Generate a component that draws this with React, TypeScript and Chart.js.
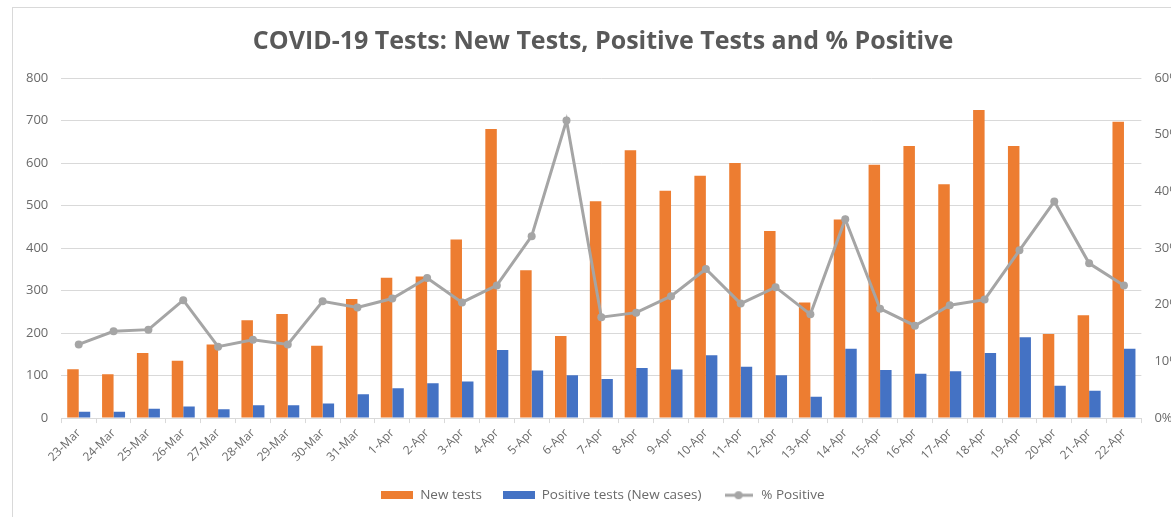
import React, { useEffect, useRef } from "react";
import { Chart, registerables } from "chart.js";

Chart.register(...registerables);

const categories = [
  "23-Mar", "24-Mar", "25-Mar", "26-Mar", "27-Mar", "28-Mar", "29-Mar", "30-Mar", "31-Mar",
  "1-Apr", "2-Apr", "3-Apr", "4-Apr", "5-Apr", "6-Apr", "7-Apr", "8-Apr", "9-Apr", "10-Apr",
  "11-Apr", "12-Apr", "13-Apr", "14-Apr", "15-Apr", "16-Apr", "17-Apr", "18-Apr", "19-Apr",
  "20-Apr", "21-Apr", "22-Apr",
];

const newTests = [
  115, 103, 153, 135, 173, 230, 245, 170, 280, 330, 333, 420, 680, 348, 193, 510, 630, 535, 570,
  600, 440, 272, 467, 596, 640, 550, 725, 640, 198, 242, 697,
];

const positiveTests = [
  15, 15, 22, 27, 21, 30, 30, 34, 56, 70, 82, 86, 160, 112, 101, 92, 118, 114, 148, 121, 101, 50,
  163, 113, 104, 110, 153, 190, 76, 64, 163,
];

const pctPositive = [
  13.0, 15.3, 15.6, 20.8, 12.6, 13.8, 13.0, 20.6, 19.5, 21.1, 24.7, 20.4, 23.4, 32.1, 52.5, 17.8,
  18.6, 21.5, 26.3, 20.2, 23.1, 18.3, 35.1, 19.3, 16.3, 19.9, 20.9, 29.6, 38.2, 27.3, 23.4,
];

const leftTickMax = 800;
const leftTickStep = 100;
const rightTickMax = 60;
const rightTickStep = 10;

const titleText = "COVID-19 Tests: New Tests, Positive Tests and % Positive";
const seriesLabels = ["New tests", "Positive tests (New cases)", "% Positive"];

const ORANGE = "#ED7D31";
const BLUE = "#4472C4";
const GRAY = "#A5A5A5";
const TEXT = "#6a6a6a";
const GRID = "#d9d9d9";
const FONT = "'Open Sans', sans-serif";

function makeIcon(kind: string, color: string): HTMLCanvasElement {
  const c = document.createElement("canvas");
  if (kind === "bar") {
    c.width = 32;
    c.height = 8;
    const ctx = c.getContext("2d")!;
    ctx.fillStyle = color;
    ctx.fillRect(0, 0, 32, 8);
  } else {
    c.width = 28;
    c.height = 10;
    const ctx = c.getContext("2d")!;
    ctx.strokeStyle = color;
    ctx.lineWidth = 3;
    ctx.beginPath();
    ctx.moveTo(0, 5);
    ctx.lineTo(28, 5);
    ctx.stroke();
    ctx.fillStyle = color;
    ctx.beginPath();
    ctx.arc(14, 5, 4, 0, Math.PI * 2);
    ctx.fill();
  }
  return c;
}

export default function App() {
  const ref = useRef<HTMLCanvasElement>(null);

  useEffect(() => {
    if (!ref.current) return;
    const icons = [makeIcon("bar", ORANGE), makeIcon("bar", BLUE), makeIcon("line", GRAY)];
    const chart = new Chart(ref.current, {
      type: "bar",
      data: {
        labels: categories,
        datasets: [
          {
            type: "bar",
            label: seriesLabels[0],
            data: newTests,
            backgroundColor: ORANGE,
            yAxisID: "y",
            order: 2,
            categoryPercentage: 0.66,
            barPercentage: 1,
          },
          {
            type: "bar",
            label: seriesLabels[1],
            data: positiveTests,
            backgroundColor: BLUE,
            yAxisID: "y",
            order: 2,
            categoryPercentage: 0.66,
            barPercentage: 1,
          },
          {
            type: "line",
            label: seriesLabels[2],
            data: pctPositive,
            borderColor: GRAY,
            backgroundColor: GRAY,
            borderWidth: 3,
            pointRadius: 4,
            pointHoverRadius: 4,
            pointBorderWidth: 0,
            pointBackgroundColor: GRAY,
            tension: 0,
            yAxisID: "y1",
            order: 1,
          },
        ] as any,
      },
      options: {
        responsive: false,
        animation: false,
        layout: { padding: { left: 0, right: 0, top: 0, bottom: 6 } },
        plugins: {
          title: {
            display: true,
            text: titleText,
            color: "#595959",
            font: { family: FONT, size: 25, weight: "bold" },
            padding: { top: 19, bottom: 21 },
          },
          legend: {
            position: "bottom",
            labels: {
              usePointStyle: true,
              pointStyleWidth: 32,
              boxHeight: 10,
              padding: 21,
              color: TEXT,
              font: { family: FONT, size: 13.5 },
              generateLabels: (ch: any) =>
                ch.data.datasets.map((ds: any, i: number) => ({
                  text: ds.label,
                  pointStyle: icons[i],
                  fillStyle: ds.backgroundColor,
                  strokeStyle: ds.backgroundColor,
                  lineWidth: 0,
                  hidden: false,
                  datasetIndex: i,
                  fontColor: TEXT,
                })),
            },
          },
          tooltip: { enabled: false },
        },
        scales: {
          x: {
            grid: {
              offset: true,
              drawOnChartArea: false,
              drawTicks: true,
              tickLength: 5,
              color: GRID,
            },
            border: { color: GRID },
            ticks: {
              minRotation: 45,
              maxRotation: 45,
              autoSkip: false,
              color: TEXT,
              font: { family: FONT, size: 12 },
            },
          },
          y: {
            min: 0,
            max: leftTickMax,
            ticks: {
              stepSize: leftTickStep,
              padding: 13,
              color: TEXT,
              font: { family: FONT, size: 13 },
            },
            grid: { color: GRID, drawTicks: false },
            border: { display: false },
          },
          y1: {
            position: "right",
            min: 0,
            max: rightTickMax,
            ticks: {
              stepSize: rightTickStep,
              padding: 13,
              color: TEXT,
              font: { family: FONT, size: 13 },
              callback: (v: any) => v + "%",
            },
            grid: { drawOnChartArea: false, drawTicks: false },
            border: { display: false },
          },
        },
      } as any,
    });
    return () => chart.destroy();
  }, []);

  return (
    <div
      style={{
        position: "fixed",
        left: 0,
        top: 0,
        width: 1171,
        height: 517,
        overflow: "hidden",
        background: "#fff",
      }}
    >
      <div
        style={{
          position: "absolute",
          left: 12,
          top: 7,
          width: 1180,
          height: 520,
          border: `1px solid ${GRID}`,
        }}
      >
        <canvas ref={ref} width={1180} height={510} style={{ display: "block" }} />
      </div>
    </div>
  );
}
